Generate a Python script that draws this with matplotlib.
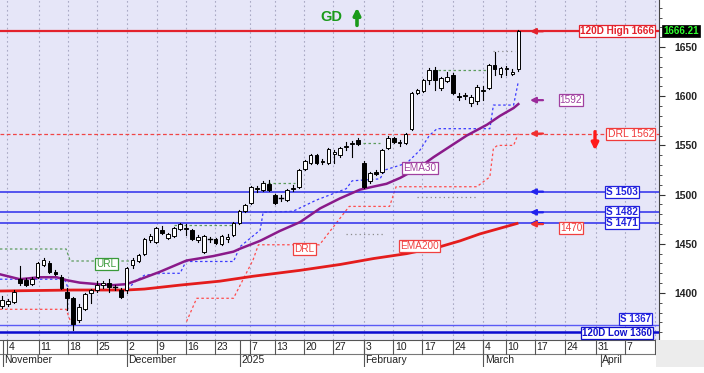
import matplotlib
matplotlib.use("Agg")
import matplotlib.pyplot as plt
from matplotlib.patches import Rectangle
from matplotlib.lines import Line2D

plt.rcParams['font.family'] = ['Liberation Sans', 'DejaVu Sans']

# ---------------- data ----------------
opens = [1387, 1389, 1391, 1414, 1413, 1409, 1416, 1428, 1430, 1421, 1416, 1401, 1395, 1373, 1384,
         1400, 1403, 1408, 1410, 1406, 1403, 1403, 1428, 1432, 1440, 1454, 1452, 1464, 1456, 1458,
         1465, 1465, 1464, 1454, 1442, 1455, 1455, 1450, 1455, 1459, 1471, 1483, 1491, 1506, 1505,
         1511, 1500, 1497, 1494, 1506, 1508, 1526, 1532, 1540, 1533, 1532, 1541, 1540, 1548, 1551,
         1555, 1532, 1514, 1523, 1523, 1547, 1558, 1552, 1552, 1567, 1603, 1605, 1616, 1627, 1608,
         1615, 1622, 1600, 1600, 1593, 1595, 1605, 1608, 1632, 1623, 1628, 1623, 1628]
highs = [1397, 1394, 1403, 1427, 1415, 1416, 1431, 1436, 1432, 1423, 1418, 1405, 1396, 1389, 1400,
         1404, 1412, 1412, 1414, 1408, 1405, 1426, 1436, 1440, 1456, 1460, 1467, 1468, 1461, 1467,
         1471, 1470, 1465, 1459, 1459, 1457, 1456, 1459, 1460, 1472, 1484, 1490, 1509, 1509, 1514,
         1515, 1501, 1500, 1506, 1510, 1526, 1535, 1541, 1541, 1536, 1547, 1545, 1548, 1553, 1554,
         1558, 1534, 1523, 1525, 1546, 1560, 1559, 1555, 1563, 1604, 1607, 1617, 1629, 1630, 1620,
         1625, 1624, 1603, 1603, 1601, 1611, 1610, 1633, 1645, 1630, 1631, 1628, 1667]
lows = [1385, 1387, 1390, 1408, 1407, 1408, 1415, 1427, 1420, 1418, 1404, 1383, 1362, 1371, 1383,
        1390, 1401, 1405, 1401, 1403, 1395, 1400, 1425, 1431, 1439, 1452, 1451, 1460, 1455, 1457,
        1464, 1459, 1454, 1452, 1441, 1452, 1450, 1449, 1452, 1458, 1470, 1482, 1490, 1503, 1504,
        1504, 1490, 1493, 1493, 1504, 1507, 1525, 1531, 1531, 1531, 1531, 1532, 1538, 1545, 1538,
        1550, 1507, 1512, 1520, 1522, 1546, 1552, 1549, 1551, 1566, 1602, 1604, 1612, 1606, 1606,
        1614, 1602, 1596, 1597, 1590, 1592, 1596, 1607, 1622, 1620, 1622, 1622, 1626]
closes = [1393, 1392, 1401, 1410, 1408, 1414, 1430, 1434, 1421, 1419, 1405, 1395, 1368, 1386, 1399,
          1403, 1408, 1410, 1406, 1406, 1396, 1425, 1434, 1439, 1455, 1458, 1466, 1461, 1460, 1466,
          1470, 1466, 1455, 1457, 1458, 1455, 1451, 1458, 1457, 1471, 1483, 1489, 1508, 1507, 1512,
          1505, 1491, 1497, 1505, 1507, 1525, 1534, 1540, 1532, 1534, 1546, 1543, 1547, 1549, 1552,
          1551, 1508, 1522, 1521, 1545, 1558, 1553, 1553, 1562, 1603, 1606, 1616, 1627, 1616, 1619,
          1620, 1603, 1599, 1601, 1599, 1609, 1606, 1632, 1628, 1629, 1629, 1625, 1666]

ema30_x = [-0.35, 3, 6.4, 9.2, 10.9, 13.1, 16, 18.8, 21, 23.3, 26.6, 31.1, 35.6, 39, 40.1, 43.5,
           46.8, 50.2, 53.6, 56.9, 60.3, 62.5, 64.8, 67.1, 70.4, 72.7, 75.5, 78.3, 81.7, 83.9, 86.2, 87]
ema30_y = [1419, 1414, 1416, 1416, 1413, 1410.5, 1409, 1408, 1409, 1414, 1421.5, 1433, 1437.5, 1442,
           1445, 1453, 1463, 1472, 1486, 1496, 1505, 1508, 1511, 1517, 1528, 1538, 1549, 1560,
           1571, 1580, 1588, 1592]
ema200_x = [-0.35, 12, 21, 24, 30, 36.7, 42.3, 50.2, 57, 62.6, 68.2, 73.8, 77.2, 80.5, 87]
ema200_y = [1402, 1403, 1403, 1404, 1408, 1412, 1417, 1423, 1429, 1435, 1440, 1447, 1453, 1460, 1471]

band_x = [-0.35, 10.5, 11.3, 21, 22.5, 24, 27, 30, 31, 39, 40.1, 43.5, 44, 49, 53, 58, 59, 63.7,
          64.5, 68.2, 70.4, 72, 73.3, 82.2, 82.8, 86.2, 87]
band_y = [1414, 1414, 1403, 1403, 1412, 1418, 1420, 1420, 1432, 1432, 1447, 1464, 1482, 1483,
          1494.5, 1506, 1514, 1516, 1525, 1532, 1545, 1560, 1567, 1567, 1591, 1591, 1615]

drl1_x = [-0.35, 10.8, 11.5]
drl1_y = [1383.4, 1383.4, 1372]
drl2_x = [31.1, 32.8, 39, 42.3, 43.2, 53.5, 58.5, 65.3, 66.4, 80, 82.2, 82.8, 83.5, 86.2, 87]
drl2_y = [1371, 1394.6, 1394.6, 1433.6, 1449, 1449, 1488, 1488, 1508, 1508, 1518, 1547, 1550,
          1550, 1562]

url_segments_x = [[-0.35, 10.8, 11.5, 22], [29, 38.8], [44, 49.4], [60, 63.7], [72.7, 82.2]]
url_segments_y = [[1444.7, 1444.7, 1432.5, 1432.5], [1469, 1469], [1512, 1512], [1552, 1552],
                  [1626.7, 1626.7]]
gray_segments_x = [[58, 64.6], [70, 80], [82.8, 86.5]]
gray_segments_y = [[1460, 1460], [1498, 1498], [1646, 1646]]

high_120 = 1666
low_120 = 1360
drl_level = 1562
supports = [1503, 1482, 1471]
support_low = 1367
ema30_last = 1592
ema200_last = 1470
last_price = "1666.21"

day_labels = ['4', '11', '18', '25', '2', '9', '16', '23', '7', '13', '20', '27', '3', '10',
              '17', '24', '4', '10', '17', '24', '31', '7', '']
month_labels = ['November', 'December', '2025', 'February', 'March', 'April']

# ---------------- layout ----------------
W, H = 704, 373
PX0, PXS = 2.0, 5.935  # candle index -> pixel mapping


def ix(px):
    return (px - PX0) / PXS


day_px = [7, 39, 68, 97, 127, 157, 186, 215, 250, 275, 304, 333, 364, 393.3, 422.3, 453.3,
          483.3, 505.7, 535, 565, 595.7, 625, 655]
month_px = [2.7, 127, 240, 364, 483.3, 601]
month_full = [True, True, True, True, True, False]
day_pos = [ix(p) for p in day_px]
month_pos = [ix(p) for p in month_px]

fig = plt.figure(figsize=(W / 100, H / 100), dpi=100)
fig.patch.set_facecolor('white')

AX_R = 659
ax = fig.add_axes([0, 1 - 340 / H, AX_R / W, 340 / H])
ax.set_facecolor('#e6e6f8')
XL = (ix(0), ix(AX_R))
ax.set_xlim(*XL)
ax.set_ylim(1352.2, 1697.8)

# grid
for p in day_pos:
    ax.axvline(p, color='#a9a9c4', lw=0.8, ls=(0, (1.5, 2.5)), zorder=1)

# level lines
ax.axhline(high_120, color='#e3222c', lw=1.6, zorder=3)
ax.axhline(drl_level, color='#f04646', lw=0.9, ls=(0, (3, 2)), zorder=3)
for s in supports:
    ax.axhline(s, color='#3b3bec', lw=1.2, zorder=3)
ax.axhline(support_low, color='#5a5af5', lw=1.0, zorder=3)
ax.axhline(low_120, color='#0a0ad0', lw=1.8, zorder=3)

# indicator lines
ax.plot(ema200_x, ema200_y, color='#e41c1c', lw=2.0, zorder=3, solid_capstyle='butt')
ax.plot(ema30_x, ema30_y, color='#8a1a8a', lw=1.8, zorder=3)
ax.plot(band_x, band_y, color='#3a3aff', lw=0.9, ls=(0, (2, 2)), zorder=2)
ax.plot(drl1_x, drl1_y, color='#ff4c4c', lw=0.9, ls=(0, (2, 2)), zorder=2)
ax.plot(drl2_x, drl2_y, color='#ff4c4c', lw=0.9, ls=(0, (2, 2)), zorder=2)
for sx, sy in zip(url_segments_x, url_segments_y):
    ax.plot(sx, sy, color='#5c9c5c', lw=0.9, ls=(0, (2, 2)), zorder=2)
for sx, sy in zip(gray_segments_x, gray_segments_y):
    ax.plot(sx, sy, color='#8c8c8c', lw=0.9, ls=(0, (1, 2.5)), zorder=2)

# candles
bw = 0.62
for i, (o, h, l, c) in enumerate(zip(opens, highs, lows, closes)):
    ax.add_line(Line2D([i, i], [l, h], color='black', lw=0.8, zorder=4))
    lo, hi = min(o, c), max(o, c)
    if hi - lo < 1.0:
        ax.add_line(Line2D([i - bw / 2, i + bw / 2], [(o + c) / 2] * 2, color='black', lw=1.0,
                           zorder=5))
    else:
        fc = 'white' if c >= o else 'black'
        ax.add_patch(Rectangle((i - bw / 2, lo), bw, hi - lo, facecolor=fc, edgecolor='black',
                               lw=0.7, zorder=5))


# arrows
def larrow(y, color):
    ax.annotate('', xy=(ix(530), y), xytext=(ix(543), y),
                arrowprops=dict(arrowstyle='-|>', color=color, lw=1.6, mutation_scale=8,
                                shrinkA=0, shrinkB=0), zorder=6)


larrow(high_120, '#e3222c')
larrow(ema30_last + 4, '#9a2a9a')
larrow(drl_level, '#f03030')
for s in supports:
    larrow(s, '#2222ee')
larrow(ema200_last, '#f03030')

ax.annotate('', xy=(ix(595), 1545), xytext=(ix(595), 1564),
            arrowprops=dict(arrowstyle='-|>', color='#ff1a1a', lw=2.4, mutation_scale=10,
                            shrinkA=0, shrinkB=0), zorder=6)
ax.annotate('', xy=(ix(357), 1690), xytext=(ix(357), 1672),
            arrowprops=dict(arrowstyle='-|>', color='#1a9a1a', lw=2.6, mutation_scale=10,
                            shrinkA=0, shrinkB=0), zorder=6)
ax.text(ix(331.5), 1680.5, 'GD', color='#1a9a1a', fontsize=10.5, fontweight='bold',
        ha='center', va='center', zorder=6)


def box(x, y, s, color, ha='center', bold=False, size=7, lw=0.9):
    ax.text(x, y, s, color=color, fontsize=size, fontweight='bold' if bold else 'normal',
            ha=ha, va='center', zorder=7,
            bbox=dict(boxstyle='square,pad=0.1', fc='white', ec=color, lw=lw))


box(ix(654), high_120, f'120D High {high_120}', '#e3222c', ha='right', bold=True, size=7.2)
box(ix(654), drl_level, f'DRL {drl_level}', '#f03a3a', ha='right', size=7.5)
for s in supports:
    box(ix(638), s, f'S {s}', '#2222dd', ha='right', bold=True, size=7.2)
box(ix(651), support_low + 6.3, f'S {support_low}', '#2222dd', ha='right', bold=True, size=7)
box(ix(652), low_120 - 0.5, f'120D Low {low_120}', '#1010cc', ha='right', bold=True, size=7)
box(ix(571), ema30_last + 4, f'{ema30_last}', '#a040a0', size=7.2)
box(ix(571), ema200_last - 4, f'{ema200_last}', '#f04040', size=7.2)
box(ix(106.5), 1429.5, 'URL', '#3a9a3a', size=7.2)
box(ix(304.5), 1444.7, 'DRL', '#f04040', size=7.2)
box(ix(420), 1527.5, 'EMA30', '#a040a0', size=7.2)
box(ix(419.5), 1447.8, 'EMA200', '#f04040', size=7.2)

# last price tag
ax.text(ix(681), high_120, last_price, color='#30ff30', fontsize=7, fontweight='bold',
        ha='center', va='center', clip_on=False, zorder=8,
        bbox=dict(boxstyle='square,pad=0.12', fc='black', ec='black', lw=0.5))

# right axis
ax.yaxis.tick_right()
ax.set_yticks([1400, 1450, 1500, 1550, 1600, 1650])
ax.set_yticks(list(range(1360, 1700, 10)), minor=True)
ax.tick_params(axis='y', which='major', length=4, width=0.8, pad=7, labelsize=7.5,
               colors='#333333', labelcolor='#222222')
ax.tick_params(axis='y', which='minor', length=2, width=0.6, colors='#333333')
for lab in ax.get_yticklabels():
    lab.set_fontweight('bold')
ax.set_xticks([])
for side in ['top', 'left']:
    ax.spines[side].set_visible(False)
ax.spines['right'].set_color('#444444')
ax.spines['bottom'].set_color('#555555')

# date axis
ax2 = fig.add_axes([0, (H - 367) / H, AX_R / W, 27 / H])
ax2.set_xlim(*XL)
ax2.set_ylim(0, 27)
ax2.set_facecolor('white')
ax2.axis('off')
ax2.axhline(13.5, color='#777777', lw=0.8)
ax2.axhline(0.3, color='#aaaaaa', lw=0.6)
for p, lab in zip(day_pos, day_labels):
    ax2.plot([p, p], [13.5, 27], color='#555555', lw=0.8)
    ax2.text(p + 0.25, 20.2, lab, fontsize=7.5, color='#222222', ha='left', va='center')
for p, lab, full in zip(month_pos, month_labels, month_full):
    ax2.plot([p, p], [0.3, 27 if full else 13.5], color='#555555', lw=0.8)
    ax2.text(p + 0.25, 6.8, lab, fontsize=7.5, color='#222222', ha='left', va='center')

fig.add_artist(Rectangle((656 / W, (H - 367) / H), (W - 656) / W, 27 / H,
                         transform=fig.transFigure, fc='#ececec', ec='none', zorder=10))

fig.savefig('out.png', dpi=100)
